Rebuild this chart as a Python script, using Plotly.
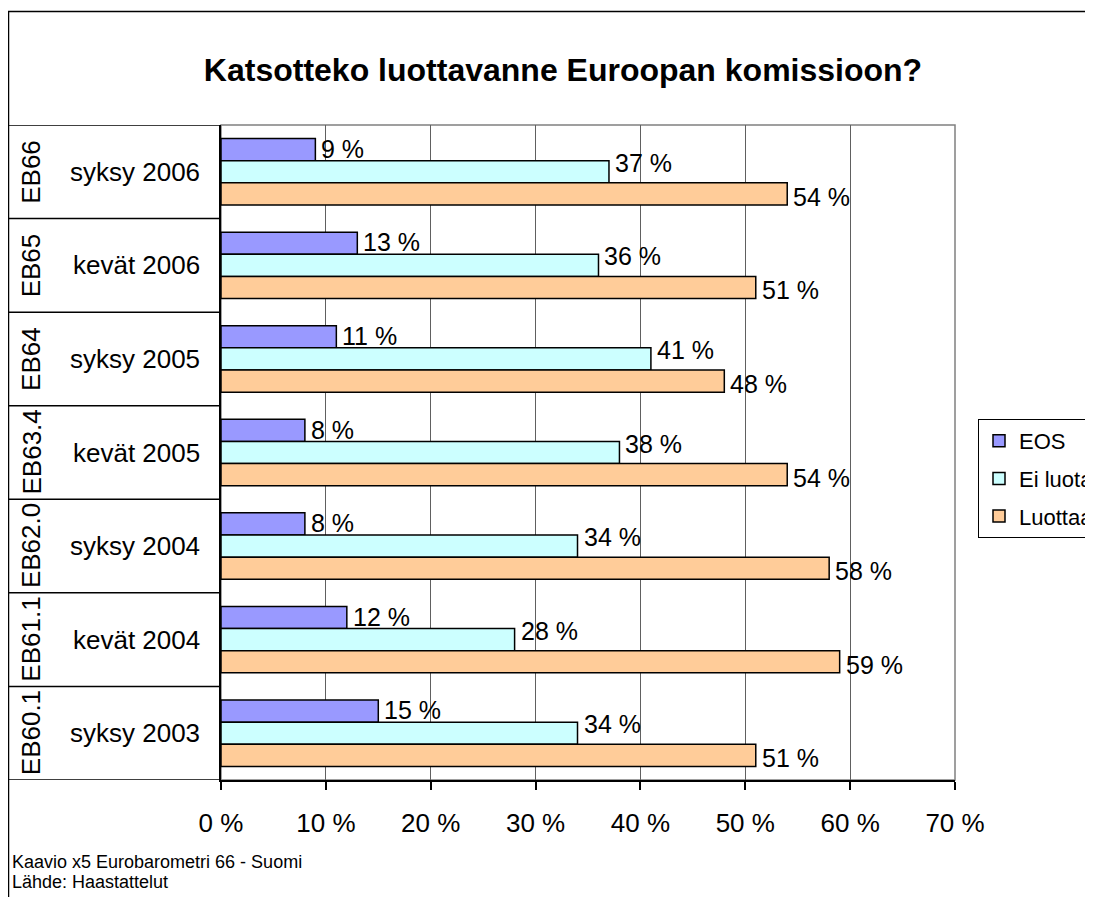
import plotly.graph_objects as go

# ---- data (top to bottom as shown) ----
seasons = ["syksy 2006", "kevät 2006", "syksy 2005", "kevät 2005",
           "syksy 2004", "kevät 2004", "syksy 2003"]
surveys = ["EB66", "EB65", "EB64", "EB63.4", "EB62.0", "EB61.1", "EB60.1"]
eos = [9, 13, 11, 8, 8, 12, 15]
ei_luota = [37, 36, 41, 38, 34, 28, 34]
luottaa = [54, 51, 48, 54, 58, 59, 51]
x_ticks = [0, 10, 20, 30, 40, 50, 60, 70]
x_tick_labels = [f"{v} %" for v in x_ticks]

title_text = "Katsotteko luottavanne Euroopan komissioon?"
footnote = ["Kaavio x5 Eurobarometri 66 - Suomi", "Lähde: Haastattelut"]

series = [
    ("EOS", eos, "#9999FF"),
    ("Ei luota", ei_luota, "#CCFFFF"),
    ("Luottaa", luottaa, "#FFCC99"),
]

W, H = 1093, 897
OFF = 8  # page body margin offset
ML, MT = 221 - OFF, 125 - OFF
MR = W - (955 - OFF)
MB = H - (780 - OFF)
PW, PH = W - ML - MR, H - MT - MB
FONT = "Liberation Sans, Arial, sans-serif"


def px_to_xpaper(px):
    return (px - OFF - ML) / PW


def px_to_ypaper(py):
    return (H - MB - (py - OFF)) / PH


fig = go.Figure()
for name, vals, col in series:
    fig.add_trace(go.Bar(
        y=seasons, x=vals, name=name, orientation="h",
        marker=dict(color=col, line=dict(color="black", width=1.5)),
        legendgroup=name, hoverinfo="x+name",
    ))

annotations = []
# data labels
yshifts = {"EOS": 23, "Ei luota": 9, "Luottaa": -25}
for name, vals, col in series:
    for s, v in zip(seasons, vals):
        annotations.append(dict(
            x=v, y=s, xref="x", yref="y", text=f"{v} %", showarrow=False,
            xanchor="left", yanchor="middle", xshift=4, yshift=yshifts[name],
            font=dict(family=FONT, size=25, color="black"),
        ))

# category labels
for s, eb in zip(seasons, surveys):
    annotations.append(dict(
        x=px_to_xpaper(202), y=s, xref="paper", yref="y", text=s,
        showarrow=False, xanchor="right", yanchor="middle",
        font=dict(family=FONT, size=26, color="black"),
    ))
    annotations.append(dict(
        x=px_to_xpaper(31), y=s, xref="paper", yref="y", text=eb,
        showarrow=False, xanchor="center", yanchor="middle", textangle=-90,
        font=dict(family=FONT, size=26, color="black"),
    ))

# footnote
for k, line in enumerate(footnote):
    annotations.append(dict(
        x=px_to_xpaper(10), y=px_to_ypaper(862 + 20 * k), xref="paper", yref="paper",
        text=line, showarrow=False, xanchor="left", yanchor="middle",
        font=dict(family=FONT, size=18, color="black"),
    ))

shapes = []
# outer chart border (extends past the right/bottom edges)
shapes.append(dict(type="rect", xref="paper", yref="paper",
                   x0=px_to_xpaper(8.5), x1=px_to_xpaper(1120),
                   y0=px_to_ypaper(930), y1=px_to_ypaper(11.5),
                   line=dict(color="black", width=1.5), layer="below"))
# plot area frame (grey top/right)
shapes.append(dict(type="rect", xref="paper", yref="paper", x0=0, x1=1, y0=0, y1=1,
                   line=dict(color="#808080", width=1.5), layer="below"))
# label-box separators
n = len(seasons)
for k in range(n + 1):
    shapes.append(dict(type="line", xref="paper", yref="y",
                       x0=px_to_xpaper(8.5), x1=0, y0=k - 0.5, y1=k - 0.5,
                       line=dict(color="black", width=1.5)))

fig.update_layout(
    width=W, height=H,
    margin=dict(l=ML, r=MR, t=MT, b=MB, autoexpand=False),
    paper_bgcolor="white", plot_bgcolor="white",
    title=dict(text=f"<b>{title_text}</b>", x=(563 - OFF) / W, xanchor="center",
               y=1 - (70 - OFF) / H, yanchor="middle", xref="container", yref="container",
               font=dict(family=FONT, size=32, color="black")),
    barmode="group", bargap=0.29, bargroupgap=0,
    showlegend=True,
    legend=dict(x=px_to_xpaper(978), y=px_to_ypaper(419), xanchor="left", yanchor="top",
                bordercolor="black", borderwidth=1, bgcolor="white",
                font=dict(family=FONT, size=22, color="black"),
                traceorder="grouped", tracegroupgap=6, itemwidth=30),
    xaxis=dict(range=[0, 70], tickvals=x_ticks, ticktext=x_tick_labels,
               showgrid=True, gridcolor="#606060", gridwidth=1,
               showline=True, linecolor="black", linewidth=1.5,
               ticks="outside", ticklen=8, tickcolor="black", tickwidth=1.5,
               ticklabelstandoff=11,
               tickfont=dict(family=FONT, size=26, color="black"),
               zeroline=False, fixedrange=True),
    yaxis=dict(categoryorder="array", categoryarray=seasons,
               range=[n - 0.5, -0.5], showticklabels=False,
               showline=True, linecolor="black", linewidth=1.5,
               showgrid=False, ticks="", zeroline=False, fixedrange=True),
    annotations=annotations, shapes=shapes,
)

fig.write_html("out.html")
